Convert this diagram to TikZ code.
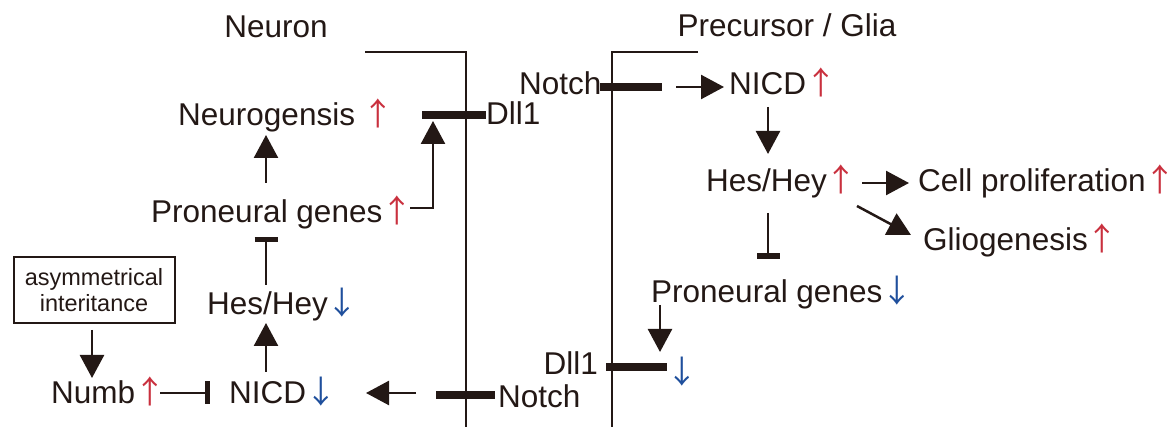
\documentclass[tikz,border=0pt]{standalone}
\usepackage{fontspec}
\setmainfont{Liberation Sans}
\newfontfamily\arrfont{Noto Sans CJK JP}
\usetikzlibrary{arrows.meta}
\definecolor{ink}{HTML}{231815}
\definecolor{upred}{HTML}{C9303E}
\definecolor{dnblue}{HTML}{1F4F9C}
\newcommand{\UP}{\textcolor{upred}{\arrfont\kern-1pt ↑\kern-8pt}}
\newcommand{\DN}{\textcolor{dnblue}{\arrfont\kern-1pt ↓\kern-8pt}}
\begin{document}
\begin{tikzpicture}[x=1pt,y=-1pt,
  lbl/.style={anchor=base west, inner sep=0pt, font=\fontsize{31.5}{36}\selectfont, text=ink},
  act/.style={draw=ink, line width=2.5pt, -{Triangle[width=24pt,length=23pt]}},
  inh/.style={draw=ink, line width=2.5pt, -{Bar[width=23pt,line width=5.5pt]}},
  mem/.style={draw=ink, line width=2pt},
  rec/.style={draw=ink, line width=8pt},
  boxed/.style={draw=ink, line width=2pt, inner sep=0pt, minimum width=161pt, minimum height=66pt, align=center, text=ink, font=\fontsize{23.5}{26}\selectfont}]
\useasboundingbox (0,0) rectangle (1176,427);
% membranes
\coordinate (mLa) at (365,52); \coordinate (mLb) at (466,52); \coordinate (mLc) at (466,427);
\coordinate (mRa) at (698,52); \coordinate (mRb) at (612,52); \coordinate (mRc) at (612,427);
\draw[mem] (mLa) -- (mLb) -- (mLc);
\draw[mem] (mRa) -- (mRb) -- (mRc);
% titles
\node[lbl, anchor=base] (neuron) at (276,38) {Neuron};
\node[lbl, anchor=base] (glia) at (787,37) {Precursor / Glia};
% neuron side labels
\node[lbl] (neurog) at (178,126) {Neurogensis \UP};
\node[lbl] (dllA) at (486,125) {Dll1};
\node[lbl] (pronA) at (151,223) {Proneural genes\UP};
\node[lbl] (hesA) at (207,315) {Hes/Hey\DN};
\node[lbl] (nicdA) at (229,404) {NICD\DN};
\node[lbl] (numb) at (51,404) {Numb\UP};
\node[lbl] (notchA) at (498,408) {Notch};
\node[boxed] (box) at (94,290) {asymmetrical\\interitance};
% precursor side labels
\node[lbl] (notchB) at (519,95) {Notch};
\node[lbl] (nicdB) at (729,95) {NICD\UP};
\node[lbl] (hesB) at (706,192) {Hes/Hey\UP};
\node[lbl] (cell) at (918,192) {Cell proliferation\UP};
\node[lbl] (glio) at (923,251) {Gliogenesis\UP};
\node[lbl] (pronB) at (651,303) {Proneural genes\DN};
\node[lbl, anchor=base east] (dllB) at (598,375) {Dll1};
\node[inner sep=0pt, font=\fontsize{31.5}{36}\selectfont] (dnD) at (679,372) {\DN};
% receptor / ligand bars
\coordinate (rA1) at (422,115); \coordinate (rA2) at (486,115);
\coordinate (rB1) at (436,395); \coordinate (rB2) at (495,395);
\coordinate (rC1) at (600,87); \coordinate (rC2) at (662,87);
\coordinate (rD1) at (606,367); \coordinate (rD2) at (667,367);
\draw[rec] (rA1) -- (rA2);
\draw[rec] (rB1) -- (rB2);
\draw[rec] (rC1) -- (rC2);
\draw[rec] (rD1) -- (rD2);
% connector end points
\coordinate (c1a) at (266,183); \coordinate (c1b) at (266,135);
\coordinate (c2a) at (410,208); \coordinate (c2b) at (433,208); \coordinate (c2c) at (433,121);
\coordinate (c3a) at (266,285); \coordinate (c3b) at (266,237);
\coordinate (c4a) at (266,372); \coordinate (c4b) at (266,323);
\coordinate (c5a) at (160,393); \coordinate (c5b) at (210,393);
\coordinate (c6a) at (416,393); \coordinate (c6b) at (366,393);
\coordinate (c7a) at (92,330); \coordinate (c7b) at (92,378);
\coordinate (c8a) at (676,87); \coordinate (c8b) at (724,87);
\coordinate (c9a) at (768,107); \coordinate (c9b) at (768,154);
\coordinate (c10a) at (862,183); \coordinate (c10b) at (909,183);
\coordinate (c11a) at (857,206); \coordinate (c11b) at (911,235);
\coordinate (c12a) at (768,213); \coordinate (c12b) at (768,259);
\coordinate (c13a) at (660,305); \coordinate (c13b) at (660,352);
\draw[act] (c1a) -- (c1b);
\draw[act] (c2a) -- (c2b) -- (c2c);
\draw[inh] (c3a) -- (c3b);
\draw[act] (c4a) -- (c4b);
\draw[inh] (c5a) -- (c5b);
\draw[act] (c6a) -- (c6b);
\draw[act] (c7a) -- (c7b);
\draw[act] (c8a) -- (c8b);
\draw[act] (c9a) -- (c9b);
\draw[act] (c10a) -- (c10b);
\draw[act] (c11a) -- (c11b);
\draw[inh] (c12a) -- (c12b);
\draw[act] (c13a) -- (c13b);
\end{tikzpicture}
\end{document}
